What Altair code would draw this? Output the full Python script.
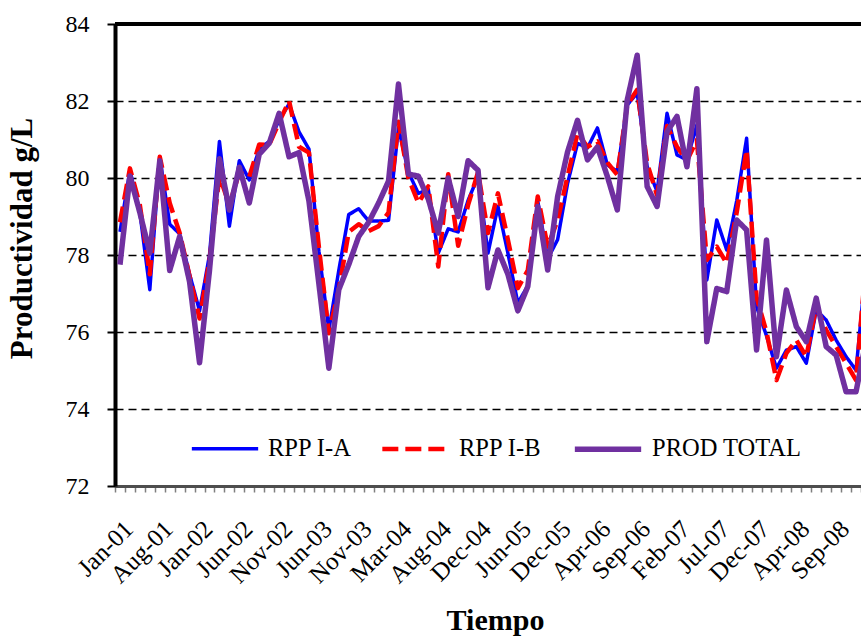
import altair as alt
import pandas as pd

# Category labels shown on the time axis (one every `label_step` categories)
tick_labels = [
    "Jan-01", "Aug-01", "Jan-02", "Jun-02", "Nov-02", "Jun-03", "Nov-03",
    "Mar-04", "Aug-04", "Dec-04", "Jun-05", "Dec-05", "Apr-06", "Sep-06",
    "Feb-07", "Jul-07", "Dec-07", "Apr-08", "Sep-08",
]
label_step = 4

series_names = ["RPP I-A", "RPP I-B", "PROD TOTAL"]

rpp_ia = [
    78.6, 80.2, 79.1, 77.1, 80.55, 78.8, 78.55, 77.5, 76.55, 78.0,
    80.95, 78.75, 80.45, 79.95, 80.75, 80.95, 81.5, 81.92, 81.2, 80.75,
    78.1, 76.05, 77.6, 79.05, 79.2, 78.88, 78.88, 78.9, 81.3, 80.15,
    79.6, 79.7, 78.05, 78.68, 78.6, 79.42, 80.04, 78.05, 79.26, 78.05,
    76.75, 77.2, 79.4, 77.9, 78.4, 79.86, 80.9, 80.78, 81.3, 80.34,
    80.17, 81.9, 82.2, 80.3, 79.65, 81.68, 80.6, 80.47, 81.38, 77.35,
    78.91, 78.13, 79.4, 81.03, 76.66, 75.9, 75.06, 75.53, 75.62, 75.19,
    76.57, 76.31, 75.79, 75.36, 75.01, 77.7,
]
rpp_ib = [
    78.85, 80.25, 79.3, 77.5, 80.55, 79.35, 78.57, 77.45, 76.35, 77.85,
    80.05, 79.3, 80.15, 80.03, 80.87, 80.86, 81.45, 82.0, 80.81, 80.66,
    78.2, 75.97, 77.1, 78.6, 78.8, 78.62, 78.75, 79.1, 81.46, 80.0,
    79.35, 79.78, 77.7, 80.1, 78.24, 79.3, 80.15, 78.57, 79.6, 78.4,
    77.14, 77.6, 79.52, 78.22, 78.9, 80.04, 81.16, 80.81, 80.95, 80.4,
    80.08, 81.9, 82.29, 80.38, 79.55, 81.35, 80.81, 80.45, 80.99, 77.87,
    78.22, 77.78, 79.1, 80.73, 76.9, 76.0, 74.75, 75.45, 75.79, 75.36,
    76.66, 76.05, 75.62, 75.19, 74.75, 77.8,
]
prod_total = [
    77.75, 80.05, 79.1, 78.05, 80.45, 77.6, 78.48, 77.3, 75.2, 77.6,
    80.5, 79.17, 80.28, 79.35, 80.62, 80.9, 81.68, 80.55, 80.66, 79.4,
    77.25, 75.06, 77.1, 77.75, 78.48, 78.85, 79.35, 79.92, 82.44, 80.1,
    80.05, 79.45, 78.57, 80.0, 79.0, 80.45, 80.2, 77.15, 78.13, 77.5,
    76.55, 77.18, 79.26, 77.61, 79.52, 80.68, 81.5, 80.47, 80.81, 80.04,
    79.17, 82.03, 83.19, 79.78, 79.26, 81.2, 81.6, 80.29, 82.32, 75.75,
    77.13, 77.05, 78.91, 78.65, 75.53, 78.39, 75.36, 77.09, 76.14, 75.75,
    76.88, 75.62, 75.4, 74.45, 74.45, 75.75,
]

rows = []
for name, values in zip(series_names, [rpp_ia, rpp_ib, prod_total]):
    for i, v in enumerate(values):
        rows.append({"idx": i, "serie": name, "valor": v})
df = pd.DataFrame(rows)

n_visible = 75  # categories fully inside the plot frame
FONT = "Liberation Serif, Times New Roman, serif"

x_scale = alt.Scale(domain=[-0.5, n_visible - 0.5], nice=False, zero=False)

# Tick marks between categories (no labels); carries the axis line and title
tick_axis = alt.Axis(
    values=[k - 0.5 for k in range(n_visible + 1)],
    labels=False,
    tickColor="#7f7f7f",
    tickWidth=1.5,
    tickSize=6,
    domainColor="#4d4d4d",
    domainWidth=3,
    grid=False,
    orient="bottom",
    title="Tiempo",
    titleFont=FONT,
    titleFontSize=30,
    titleFontWeight="bold",
    titleColor="black",
    titleX=380,
    titleY=143,
    titleBaseline="alphabetic",
)

# Labels centred on every fourth category
label_array = "[" + ",".join(f"'{t}'" for t in tick_labels) + "]"
label_axis = alt.Axis(
    values=[k * label_step for k in range(len(tick_labels))],
    labelExpr=f"{label_array}[round(datum.value / {label_step})]",
    labelAngle=-45,
    labelAlign="right",
    labelBaseline="top",
    labelFlush=False,
    labelOverlap=False,
    labelFont=FONT,
    labelFontSize=25,
    labelColor="black",
    labelPadding=4,
    offset=26,
    ticks=False,
    tickSize=0,
    domain=False,
    grid=False,
    orient="bottom",
    title=None,
)

y_enc = alt.Y(
    "valor:Q",
    scale=alt.Scale(domain=[72, 84], nice=False, zero=False),
    axis=alt.Axis(
        values=list(range(72, 85, 2)),
        labelFont=FONT,
        labelFontSize=24,
        labelColor="black",
        labelPadding=18,
        tickColor="black",
        tickWidth=2,
        tickSize=8,
        domainColor="black",
        domainWidth=4,
        grid=True,
        gridColor="black",
        gridDash=[8, 5],
        gridWidth=1.5,
        title="Productividad g/L",
        titleFont=FONT,
        titleFontSize=31,
        titleFontWeight="bold",
        titleColor="black",
        titleX=-84,
        titleY=214,
        titleAngle=-90,
        titleBaseline="alphabetic",
    ),
)

color_enc = alt.Color(
    "serie:N",
    scale=alt.Scale(domain=series_names, range=["#0000FF", "#FF0000", "#7030A0"]),
    legend=alt.Legend(
        title=None,
        orient="none",
        legendX=75,
        legendY=389,
        direction="horizontal",
        symbolType="stroke",
        symbolSize=4400,
        labelFont=FONT,
        labelFontSize=24.5,
        labelColor="black",
        labelOffset=8,
        columnPadding=21,
        padding=0,
    ),
)
dash_enc = alt.StrokeDash(
    "serie:N",
    scale=alt.Scale(domain=series_names, range=[[1, 0], [16, 7], [1, 0]]),
    legend=None,
)
width_enc = alt.StrokeWidth(
    "serie:N",
    scale=alt.Scale(domain=series_names, range=[3.5, 5.5, 4]),
    legend=None,
)


def series_layer(name, axis):
    return (
        alt.Chart(df)
        .transform_filter(alt.datum.serie == name)
        .mark_line(clip=True, strokeJoin="round")
        .encode(
            x=alt.X("idx:Q", scale=x_scale, axis=axis),
            y=y_enc,
            color=color_enc,
            strokeDash=dash_enc,
            strokeWidth=width_enc,
        )
    )


# one layer per series so they stack in legend order
layers = [
    series_layer(series_names[0], tick_axis),
    series_layer(series_names[1], label_axis),
    series_layer(series_names[2], None),
]

top_border = alt.Chart(df).mark_rule(color="black", strokeWidth=4).encode(
    y=alt.datum(84)
)

chart = (
    alt.layer(*layers, top_border)
    .resolve_axis(x="independent")
    .properties(
        width=746,
        height=462,
        padding={"left": 115, "top": 24, "right": 0, "bottom": 153},
        autosize=alt.AutoSizeParams(type="none"),
        background="white",
    )
    .configure(font=FONT)
    .configure_view(stroke=None)
)

chart.save("out.html", embed_options={"renderer": "svg", "actions": False})
